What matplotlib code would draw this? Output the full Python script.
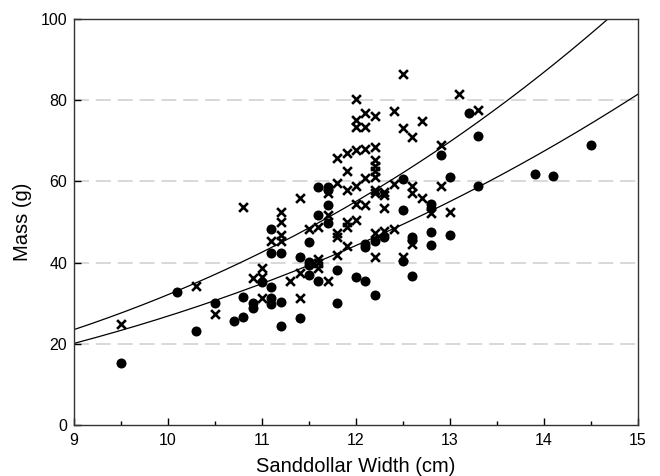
import numpy as np
from matplotlib import pyplot as plt
from matplotlib.ticker import MultipleLocator

plt.rcParams['font.family'] = ['Liberation Sans', 'DejaVu Sans']

# crosses (x marker)
x_cross = [9.5, 10.3, 10.5, 10.8, 10.9,
           11.0, 11.0, 11.0, 11.1,
           11.2, 11.2, 11.2, 11.2, 11.3,
           11.4, 11.4, 11.4, 11.5,
           11.6, 11.6, 11.6, 11.6,
           11.7, 11.7, 11.7,
           11.8, 11.8, 11.8, 11.8, 11.8,
           11.9, 11.9, 11.9, 11.9, 11.9, 11.9,
           12.0, 12.0, 12.0, 12.0, 12.0, 12.0, 12.0,
           12.1, 12.1, 12.1, 12.1, 12.1,
           12.2, 12.2, 12.2, 12.2, 12.2, 12.2, 12.2, 12.2, 12.2, 12.2,
           12.3, 12.3, 12.3, 12.3,
           12.4, 12.4, 12.4,
           12.5, 12.5, 12.5,
           12.6, 12.6, 12.6, 12.6,
           12.7, 12.7, 12.8, 12.9, 12.9, 13.0, 13.1, 13.3]
y_cross = [24.8, 34.2, 27.3, 53.8, 36.3,
           38.7, 36.5, 31.2, 45.2,
           52.5, 50.1, 46.8, 45.2, 35.5,
           55.8, 37.5, 31.2, 48.2,
           48.8, 41.0, 39.8, 38.6,
           57.1, 51.7, 35.5,
           65.7, 59.5, 47.2, 46.4, 41.9,
           67.1, 62.5, 57.9, 50.1, 48.8, 44.1,
           80.2, 75.1, 73.5, 67.7, 58.9, 54.4, 50.5,
           76.8, 73.5, 68.1, 60.8, 54.2,
           76.1, 68.5, 65.3, 63.8, 62.5, 61.2, 57.9, 57.1, 47.4, 41.5,
           57.5, 56.7, 53.4, 47.8,
           77.3, 59.4, 48.3,
           86.5, 73.2, 41.5,
           70.9, 58.9, 57.1, 44.6,
           74.9, 55.9, 52.1, 69.0, 58.8, 52.5, 81.5, 77.6]

# filled circles
x_dot = [9.5, 10.1, 10.3, 10.5, 10.7, 10.8, 10.8, 10.9, 10.9, 11.0,
         11.1, 11.1, 11.1, 11.1, 11.1, 11.2, 11.2, 11.2, 11.4, 11.4,
         11.5, 11.5, 11.5, 11.5, 11.6, 11.6, 11.6,
         11.7, 11.7, 11.7, 11.7, 11.8, 11.8, 12.0,
         12.1, 12.1, 12.1, 12.2, 12.2, 12.3,
         12.5, 12.5, 12.5, 12.6, 12.6, 12.6,
         12.8, 12.8, 12.8, 12.8, 12.9, 13.0, 13.0,
         13.2, 13.3, 13.3, 13.9, 14.1, 14.5]
y_dot = [15.3, 32.7, 23.2, 30.1, 25.6, 31.6, 26.5, 30.1, 28.7, 35.3,
         48.2, 42.3, 33.9, 31.4, 29.9, 42.3, 30.4, 24.4, 41.5, 26.4,
         45.0, 40.2, 39.4, 36.9, 58.6, 51.7, 35.5,
         58.6, 57.9, 54.2, 49.7, 38.3, 30.1, 36.5,
         44.7, 43.8, 35.5, 45.2, 32.0, 46.4,
         60.5, 53.0, 40.4, 46.4, 45.6, 36.7,
         54.5, 53.4, 47.6, 44.3, 66.5, 61.2, 46.8,
         76.8, 71.3, 58.9, 61.7, 61.3, 68.9]

# fitted power curves y = a * (x / 9) ** b
upper_a, upper_b = 23.5, 2.96
lower_a, lower_b = 20.1, 2.74

fig = plt.figure(figsize=(6.6, 4.76), dpi=100)
ax = fig.add_axes([74 / 660, 1 - 425 / 476, (638 - 74) / 660, (425 - 19) / 476])

# grid lines
for g in [20, 40, 60, 80]:
    ax.axhline(g, color='#d6d6d6', lw=1.3, dashes=(8.3, 3.8), zorder=0)

xs = np.linspace(9, 15, 300)
ax.plot(xs, upper_a * (xs / 9) ** upper_b, color='black', lw=0.9, zorder=2)
ax.plot(xs, lower_a * (xs / 9) ** lower_b, color='black', lw=0.9, zorder=2)

ax.scatter(x_dot, y_dot, s=52, color='black', marker='o', linewidths=0, zorder=3)
ax.scatter(x_cross, y_cross, s=40, color='black', marker='x', linewidths=1.9, zorder=3)

ax.set_xlim(9, 15)
ax.set_ylim(0, 100)
ax.xaxis.set_major_locator(MultipleLocator(1))
ax.xaxis.set_minor_locator(MultipleLocator(0.5))
ax.yaxis.set_major_locator(MultipleLocator(20))
ax.tick_params(which='both', direction='in', labelsize=11.5)
ax.tick_params(which='major', length=5, width=1)
ax.tick_params(which='minor', length=3, width=1)
ax.tick_params(axis='x', pad=6)
ax.tick_params(axis='y', pad=5)
for s in ax.spines.values():
    s.set_linewidth(1.0)
    s.set_color('#333333')

ax.set_xlabel('Sanddollar Width (cm)', fontsize=14.5, labelpad=6)
ax.set_ylabel('Mass (g)', fontsize=14.5, labelpad=6)

plt.savefig('out.png', dpi=100)
